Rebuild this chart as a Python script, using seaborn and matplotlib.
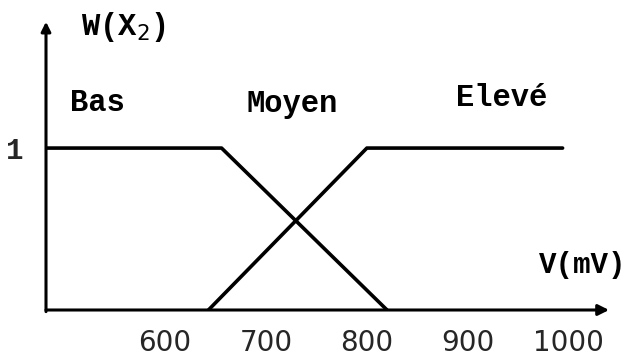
import matplotlib
matplotlib.use("Agg")
import matplotlib.pyplot as plt
import seaborn as sns
import pandas as pd

sns.set_style("white")

# membership functions of the voltage V (mV)
bas_v = [482, 656, 820]
bas_w = [1, 1, 0]
eleve_v = [643, 800, 994]
eleve_w = [0, 1, 1]
tick_values = [600, 700, 800, 900, 1000]
tick_labels = ["600", "700", "800", "900", "1000"]
term_names = ["Bas", "Moyen", "Elevé"]
term_pos = [(533, 1.28), (726, 1.27), (934, 1.31)]

df = pd.concat([
    pd.DataFrame({"V": bas_v, "W": bas_w, "terme": "Bas"}),
    pd.DataFrame({"V": eleve_v, "W": eleve_w, "terme": "Elevé"}),
])

fig = plt.figure(figsize=(6.3, 3.58), dpi=100)
ax = fig.add_axes([46 / 630, 48 / 358, (607 - 46) / 630, (310 - 25) / 358])
ax.set_xlim(482, 1038)
ax.set_ylim(0, 1.76)

sns.lineplot(data=df, x="V", y="W", units="terme", estimator=None,
             color="black", lw=2.6, ax=ax, legend=False, sort=False)

for s in ax.spines.values():
    s.set_visible(False)

# axes with arrow heads
ax.annotate("", xy=(1040, 0), xytext=(482, 0), xycoords="data",
            arrowprops=dict(arrowstyle="-|>", color="black", lw=2.2,
                            mutation_scale=16, shrinkA=0, shrinkB=0),
            annotation_clip=False)
ax.annotate("", xy=(482, 1.78), xytext=(482, -0.01), xycoords="data",
            arrowprops=dict(arrowstyle="-|>", color="black", lw=2.2,
                            mutation_scale=14, shrinkA=0, shrinkB=0),
            annotation_clip=False)

ax.set_xticks(tick_values)
ax.set_xticklabels(tick_labels)
ax.set_yticks([1])
ax.set_yticklabels(["1"])
ax.tick_params(axis="x", length=0, pad=14, labelsize=20)
ax.tick_params(axis="y", length=0, pad=16, labelsize=21)
for t in ax.get_xticklabels():
    t.set_family("DejaVu Sans")
for t in ax.get_yticklabels():
    t.set_family("Liberation Mono")
    t.set_fontweight("bold")
ax.set_xlabel("")
ax.set_ylabel("")

mono = dict(family="Liberation Mono", fontweight="bold", color="black")
for name, (x, y) in zip(term_names, term_pos):
    ax.text(x, y, name, ha="center", va="center", fontsize=22, **mono)

ax.text(517, 1.75, r"W(X$_2$)", ha="left", va="center", fontsize=22,
        clip_on=False, **mono)
ax.text(1014, 0.28, "V(mV)", ha="center", va="center", fontsize=21,
        clip_on=False, **mono)

fig.savefig("out.png", dpi=100)
